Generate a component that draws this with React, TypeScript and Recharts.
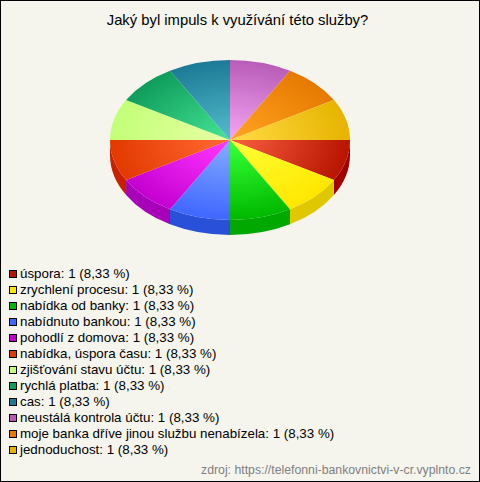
import React from "react";
import { PieChart, Pie, Legend } from "recharts";

const TITLE = "Jaký byl impuls k využívání této služby?";
const SOURCE = "zdroj: https://telefonni-bankovnictvi-v-cr.vyplnto.cz";

const categories = [
  "úspora",
  "zrychlení procesu",
  "nabídka od banky",
  "nabídnuto bankou",
  "pohodlí z domova",
  "nabídka, úspora času",
  "zjišťování stavu účtu",
  "rychlá platba",
  "cas",
  "neustálá kontrola účtu",
  "moje banka dříve jinou službu nenabízela",
  "jednoduchost",
];
const counts = [1, 1, 1, 1, 1, 1, 1, 1, 1, 1, 1, 1];
const percents = ["8,33", "8,33", "8,33", "8,33", "8,33", "8,33", "8,33", "8,33", "8,33", "8,33", "8,33", "8,33"];

const EDGE_COLORS = ["#b81400", "#ffe600", "#00b800", "#3f66ff", "#c400d0", "#e23a00", "#c2ff78", "#0f9c5c", "#1c7a96", "#b85cb8", "#e67a00", "#e6b400"];
const CENTER_COLORS = ["#f55a3c", "#ffff33", "#33ff33", "#80a8ff", "#ff33ff", "#ff6630", "#e6ffa0", "#40e090", "#50b8c8", "#f0a0f0", "#ffa020", "#ffd840"];
const WALL_COLORS = ["#a00000", "#e0c800", "#00a800", "#2850d8", "#a800b8", "#c82000", "#a0d860", "#0a7c48", "#105c70", "#904890", "#c06000", "#c09000"];

const WIDTH = 480;
const HEIGHT = 482;
const CX = 230;
const CY = 140;
const RADIUS = 120;
const SQUASH = 2 / 3;
const DEPTH = 15;
const RAD = Math.PI / 180;

const chartData = categories.map((name, i) => ({
  name,
  value: counts[i],
  percent: percents[i],
  fill: EDGE_COLORS[i],
}));

// recharts only draws round pies, so the sector shapes flatten the angles it hands over
const ellipsePoint = (cx: number, cy: number, r: number, angle: number) => [
  cx + r * Math.cos(angle * RAD),
  cy - r * SQUASH * Math.sin(angle * RAD),
];

const TopSlice = (props: any) => {
  const { cx, cy, outerRadius, startAngle, endAngle, name } = props;
  const index = categories.indexOf(name);
  const [x1, y1] = ellipsePoint(cx, cy, outerRadius, startAngle);
  const [x2, y2] = ellipsePoint(cx, cy, outerRadius, endAngle);
  const d = `M${cx},${cy}L${x1},${y1}A${outerRadius},${outerRadius * SQUASH} 0 0 1 ${x2},${y2}Z`;
  return <path d={d} fill={`url(#slice-${index})`} />;
};

// side of the pie, only the part that faces the viewer
const WallSlice = (props: any) => {
  const { cx, cy, outerRadius, startAngle, endAngle, name } = props;
  const index = categories.indexOf(name);
  const from = Math.max(startAngle, -180);
  const to = Math.max(endAngle, -180);
  if (from <= to) return <g />;
  const [x1, y1] = ellipsePoint(cx, cy, outerRadius, from);
  const [x2, y2] = ellipsePoint(cx, cy, outerRadius, to);
  const rx = outerRadius;
  const ry = outerRadius * SQUASH;
  const d = `M${x1},${y1}A${rx},${ry} 0 0 1 ${x2},${y2}L${x2},${y2 + DEPTH}A${rx},${ry} 0 0 0 ${x1},${y1 + DEPTH}Z`;
  return <path d={d} fill={WALL_COLORS[index]} />;
};

const LegendList = ({ payload }: any) => {
  // both pie layers report to the legend, keep one row per category
  const rows = categories.map((name) => (payload || []).find((item: any) => item.value === name)).filter(Boolean);
  return (
    <div style={{ fontFamily: "'Liberation Sans', Arial, sans-serif", fontSize: 13.33, color: "#000" }}>
      {rows.map((item: any) => (
        <div key={item.value} style={{ height: 16, lineHeight: "16px", display: "flex", alignItems: "center", whiteSpace: "nowrap" }}>
          <span
            style={{
              width: 6,
              height: 6,
              background: item.payload.fill,
              border: "1px solid #000",
              marginRight: 3,
              flex: "none",
            }}
          />
          {item.value}: {item.payload.value} ({item.payload.percent} %)
        </div>
      ))}
    </div>
  );
};

export default function App() {
  return (
    <div
      style={{
        position: "absolute",
        left: 0,
        top: 0,
        width: WIDTH,
        height: HEIGHT,
        boxSizing: "border-box",
        background: "#f5f5ee",
        border: "1px solid #000",
        overflow: "hidden",
      }}
    >
      <div
        style={{
          position: "absolute",
          left: 0,
          top: 10,
          width: 473,
          textAlign: "center",
          fontFamily: "'Liberation Sans', Arial, sans-serif",
          fontSize: 14.8,
          lineHeight: "18px",
          color: "#000",
        }}
      >
        {TITLE}
      </div>
      <div style={{ position: "absolute", left: -1, top: -1 }}>
        <PieChart width={WIDTH} height={HEIGHT} margin={{ top: 0, right: 0, bottom: 0, left: 0 }}>
          <defs>
            {categories.map((name, i) => (
              <radialGradient
                key={name}
                id={`slice-${i}`}
                gradientUnits="userSpaceOnUse"
                cx={0}
                cy={0}
                r={RADIUS}
                gradientTransform={`translate(${CX} ${CY}) scale(1 ${SQUASH})`}
              >
                <stop offset="8%" stopColor={CENTER_COLORS[i]} />
                <stop offset="100%" stopColor={EDGE_COLORS[i]} />
              </radialGradient>
            ))}
          </defs>
          <Pie
            data={chartData}
            dataKey="value"
            nameKey="name"
            cx={CX}
            cy={CY}
            outerRadius={RADIUS}
            startAngle={0}
            endAngle={-360}
            stroke="none"
            shape={WallSlice}
            isAnimationActive={false}
          />
          <Pie
            data={chartData}
            dataKey="value"
            nameKey="name"
            cx={CX}
            cy={CY}
            outerRadius={RADIUS}
            startAngle={0}
            endAngle={-360}
            stroke="none"
            shape={TopSlice}
            isAnimationActive={false}
          />
          <Legend
            content={LegendList}
            layout="horizontal"
            verticalAlign="bottom"
            align="left"
            wrapperStyle={{ left: 9, top: 266, bottom: "auto", width: 440 }}
          />
        </PieChart>
      </div>
      <div
        style={{
          position: "absolute",
          right: 8,
          top: 462,
          fontFamily: "'Liberation Sans', Arial, sans-serif",
          fontSize: 12.27,
          lineHeight: "14px",
          color: "#808080",
        }}
      >
        {SOURCE}
      </div>
    </div>
  );
}
